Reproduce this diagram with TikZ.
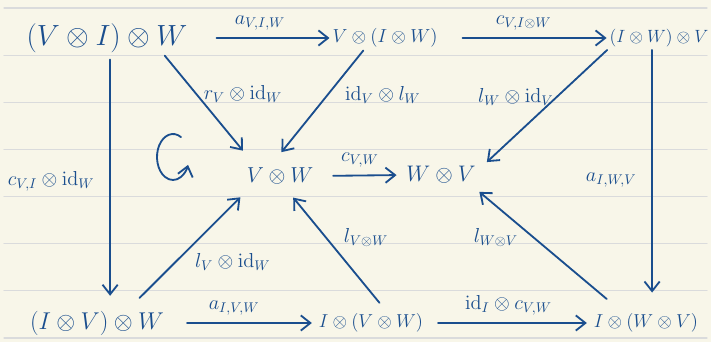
\RequirePackage{fix-cm}
\documentclass[tikz,border=0pt]{standalone}
\usepackage{amsmath}
\usepackage{amssymb}
\usetikzlibrary{arrows.meta,positioning}
\definecolor{ink}{RGB}{26,78,142}
\definecolor{paper}{RGB}{248,246,233}
\definecolor{paperline}{RGB}{218,219,220}

\begin{document}
\begin{tikzpicture}[x=0.025cm,y=-0.025cm,>={Straight Barb[length=2.4mm,width=3.8mm]},line cap=round]

  \tikzstyle{obj}=[text=ink,inner sep=2pt]
  \tikzstyle{post}=[->,draw=ink,line width=1.3pt]
  \tikzstyle{lab}=[text=ink,font=\Large,inner sep=2pt]

  % ruled paper
  \fill[paper] (0,0) rectangle (711,342);
  \useasboundingbox (0,0) rectangle (711,342);
  \foreach \k in {0,...,7}
    \draw[paperline,line width=0.8pt] (4,8+47.15*\k) -- (707,8+47.15*\k);

  % objects
  \node [obj,font=\huge] (A) at (107,38)  {$(V\otimes I)\otimes W$};
  \node [obj,font=\fontsize{13.4}{16}\selectfont] (B) at (385,38)  {$V\otimes(I\otimes W)$};
  \node [obj,font=\fontsize{12.6}{15}\selectfont] (C) at (659,38)  {$(I\otimes W)\otimes V$};
  \node [obj,font=\fontsize{15.4}{18}\selectfont] (D) at (280,176) {$V\otimes W$};
  \node [obj,font=\fontsize{16}{19}\selectfont] (E) at (441,175) {$W\otimes V$};
  \node [obj,font=\LARGE] (F) at (97,323)  {$(I\otimes V)\otimes W$};
  \node [obj,font=\fontsize{13.3}{16}\selectfont] (G) at (371,323) {$I\otimes(V\otimes W)$};
  \node [obj,font=\fontsize{13.3}{16}\selectfont] (H) at (646,323) {$I\otimes(W\otimes V)$};

  % top row
  \path (A.east) edge [post,shorten <=0.65cm] node[lab,above=3pt] (aVIW) {$a_{V,I,W}$} (B.west);
  \path (B.east) edge [post,shorten <=0.55cm] node[lab,above=3pt] (cVIW) {$c_{V,I\otimes W}$} (C.west);

  % sides
  \path (A.-80) edge [post,shorten <=0.1cm,shorten >=0.3cm]
    node[lab,left=0.3cm] (cVIid) {$c_{V,I}\otimes\mathrm{id}_W$} (A.-80 |- F.north);
  \path (C.-120) edge [post,shorten >=0.45cm]
    node[lab,left=0.3cm] (aIWV) {$a_{I,W,V}$} (C.-120 |- H.north);

  % into the middle
  \path (A.-17) edge [post,shorten >=0.45cm]
    node[lab,pos=0.35,right=0.1cm] (rid) {$r_V\otimes\mathrm{id}_W$} (D.156);
  \path (B.-150) edge [post,shorten >=0.4cm]
    node[lab,pos=0.39,right=0.35cm] (idl) {$\mathrm{id}_V\otimes l_W$} (D.127);
  \path (C.193) edge [post,shorten >=0.28cm]
    node[lab,pos=0.39,left=0pt] (lid) {$l_W\otimes\mathrm{id}_V$} (E.8);
  \path (D.east) edge [post,shorten <=0.42cm,shorten >=0.17cm]
    node[lab,above=3pt] (cVW) {$c_{V,W}$} (E.west);
  \path (F.25) edge [post,shorten <=0.35cm,shorten >=0.35cm]
    node[lab,pos=0.38,right=0.4cm] (lVid) {$l_V\otimes\mathrm{id}_W$} (D.-159);
  \path (G.40) edge [post,shorten <=0.25cm,shorten >=0.33cm]
    node[lab,pos=0.59,right=0.35cm] (lVW) {$l_{V\otimes W}$} (D.-67);
  \path (H.154) edge [post,shorten <=0.45cm,shorten >=0.2cm]
    node[lab,pos=0.59,left=0.3cm] (lWV) {$l_{W\otimes V}$} (E.-20);

  % bottom row
  \path (F.east) edge [post,shorten <=0.5cm,shorten >=0.1cm]
    node[lab,pos=0.45,above=3pt] (aIVW) {$a_{I,V,W}$} (G.west);
  \path (G.east) edge [post,shorten <=0.3cm,shorten >=0.1cm]
    node[lab,above=3pt] (idc) {$\mathrm{id}_I\otimes c_{V,W}$} (H.west);

  % commutes
  \draw [post] (173,157) ++(-60:16 and 23)
    arc [start angle=-60,end angle=-340,x radius=16,y radius=23];

\end{tikzpicture}
\end{document}
